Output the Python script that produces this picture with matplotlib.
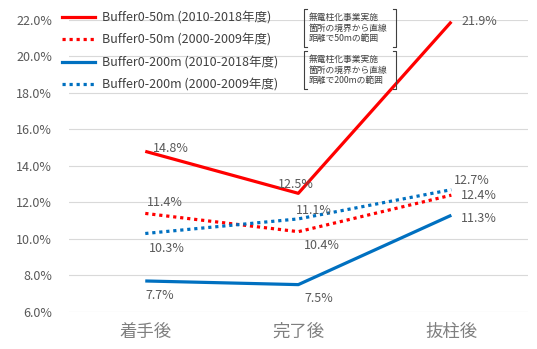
import matplotlib.pyplot as plt
from matplotlib.lines import Line2D

plt.rcParams['font.family'] = ['Noto Sans CJK JP', 'DejaVu Sans']

stages = ["着手後", "完了後", "抜柱後"]
b50_recent = [14.8, 12.5, 21.9]   # Buffer0-50m (2010-2018年度)
b50_old = [11.4, 10.4, 12.4]      # Buffer0-50m (2000-2009年度)
b200_recent = [7.7, 7.5, 11.3]    # Buffer0-200m (2010-2018年度)
b200_old = [10.3, 11.1, 12.7]     # Buffer0-200m (2000-2009年度)
yticks = [6, 8, 10, 12, 14, 16, 18, 20, 22]

RED = "#FF0000"
BLUE = "#0070C0"
GREY = "#595959"

fig = plt.figure(figsize=(5.37, 3.49), dpi=100)
ax = fig.add_axes([0.128, 0.106, 0.855, 0.837])

x = range(len(stages))
ax.plot(x, b50_recent, color=RED, lw=2.3, solid_capstyle="butt")
ax.plot(x, b50_old, color=RED, lw=2.3, ls=(0, (1, 1.2)))
ax.plot(x, b200_recent, color=BLUE, lw=2.3, solid_capstyle="butt")
ax.plot(x, b200_old, color=BLUE, lw=2.3, ls=(0, (1, 1.2)))

# data labels: (series, point index, x offset px, y offset px)
labels = [
    (b50_recent, 0, 8, 3), (b50_recent, 1, -20, 9), (b50_recent, 2, 10, 0),
    (b50_old, 0, 2, 11), (b50_old, 1, 6, -14), (b50_old, 2, 10, 0),
    (b200_recent, 0, 0, -15), (b200_recent, 1, 6, -14), (b200_recent, 2, 10, -3),
    (b200_old, 0, 4, -15), (b200_old, 1, -2, 8), (b200_old, 2, 3, 9),
]
for series, i, dx, dy in labels:
    ax.annotate(f"{series[i]:.1f}%", (i, series[i]), xytext=(dx, dy),
                textcoords="offset pixels", ha="left", va="center",
                fontsize=9, color=GREY)

ax.set_xlim(-0.5, 2.5)
ax.set_ylim(6, 22)
ax.set_yticks(yticks)
ax.set_yticklabels([f"{v:.1f}%" for v in yticks], fontsize=9, color=GREY)
ax.set_xticks(list(x))
ax.set_xticklabels(stages, fontsize=12.5, color="#7f7f7f")
ax.tick_params(length=0)
ax.tick_params(axis="x", pad=8)
ax.tick_params(axis="y", pad=12)
ax.grid(axis="y", color="#d9d9d9", lw=0.8)
ax.set_axisbelow(True)
for s in ax.spines.values():
    s.set_visible(False)

handles = [
    Line2D([], [], color=RED, lw=2.3),
    Line2D([], [], color=RED, lw=2.3, ls=(0, (1, 1.2))),
    Line2D([], [], color=BLUE, lw=2.3),
    Line2D([], [], color=BLUE, lw=2.3, ls=(0, (1, 1.2))),
]
names = [
    "Buffer0-50m (2010-2018年度)",
    "Buffer0-50m (2000-2009年度)",
    "Buffer0-200m (2010-2018年度)",
    "Buffer0-200m (2000-2009年度)",
]
fig.legend(handles, names, loc="upper left", bbox_to_anchor=(0.095, 1.0),
           frameon=False, fontsize=9, labelcolor="#404040",
           handlelength=2.6, handletextpad=0.6, labelspacing=0.75)

# bracketed notes describing each buffer distance
notes = [
    ("無電柱化事業実施\n箇所の境界から直線\n距離で50mの範囲", 349 - 9, 349 - 47),
    ("無電柱化事業実施\n箇所の境界から直線\n距離で200mの範囲", 349 - 51, 349 - 89),
]
for text, ytop, ybot in notes:
    ytop /= 349
    ybot /= 349
    xl, xr = 304 / 537, 396 / 537
    w = 3 / 537
    fig.add_artist(Line2D([xl + w, xl, xl, xl + w], [ytop, ytop, ybot, ybot],
                          color="#404040", lw=0.8))
    fig.add_artist(Line2D([xr - w, xr, xr, xr - w], [ytop, ytop, ybot, ybot],
                          color="#404040", lw=0.8))
    fig.text(xl + 0.009, (ytop + ybot) / 2, text, fontsize=6.3, color="#404040",
             va="center", ha="left", linespacing=1.2)

fig.savefig("out.png", dpi=100)
